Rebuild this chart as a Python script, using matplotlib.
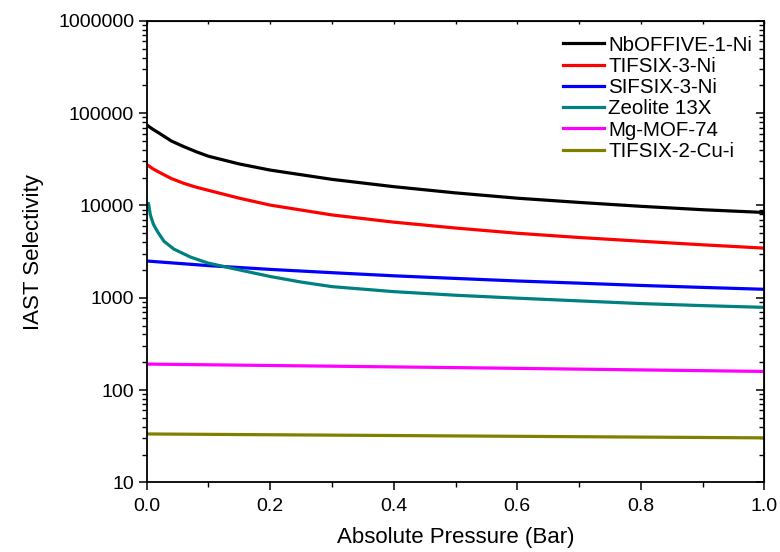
import matplotlib

matplotlib.use("Agg")
import matplotlib.pyplot as plt
from matplotlib.ticker import FuncFormatter, LogLocator, MultipleLocator, NullFormatter

plt.rcParams["font.family"] = ["Liberation Sans", "DejaVu Sans"]

# ---- data ----
x_nb = [0.001, 0.01, 0.02, 0.04, 0.06, 0.08, 0.1, 0.15, 0.2, 0.3, 0.4, 0.5, 0.6, 0.7, 0.8, 0.9, 1.0]
y_nb = [74000, 67000, 61000, 50000, 43500, 38300, 34200, 28200, 24200, 19200, 16000, 13700,
        12000, 10800, 9800, 9000, 8400]

x_ti3 = [0.001, 0.01, 0.02, 0.04, 0.06, 0.08, 0.1, 0.15, 0.2, 0.3, 0.4, 0.5, 0.6, 0.7, 0.8, 0.9, 1.0]
y_ti3 = [27600, 25000, 23000, 19600, 17400, 15800, 14600, 12000, 10100, 7900, 6600, 5700,
         5000, 4500, 4100, 3750, 3450]

x_si3 = [0.001, 0.1, 0.2, 0.3, 0.4, 0.5, 0.6, 0.7, 0.8, 0.9, 1.0]
y_si3 = [2500, 2230, 2030, 1870, 1730, 1620, 1520, 1440, 1360, 1295, 1235]

x_zeo = [0.001, 0.003, 0.006, 0.011, 0.018, 0.028, 0.044, 0.071, 0.099, 0.136,
         0.2, 0.25, 0.3, 0.4, 0.5, 0.6, 0.7, 0.8, 0.9, 1.0]
y_zeo = [9800, 10500, 7900, 6250, 5160, 4100, 3370, 2760, 2380, 2100,
         1700, 1480, 1320, 1165, 1065, 990, 925, 865, 822, 787]

x_mg = [0.001, 0.5, 1.0]
y_mg = [191, 175, 159]

x_ti2 = [0.001, 0.5, 1.0]
y_ti2 = [33.4, 31.8, 30.3]

series = [
    ("NbOFFIVE-1-Ni", x_nb, y_nb, "#000000"),
    ("TIFSIX-3-Ni", x_ti3, y_ti3, "#ff0000"),
    ("SIFSIX-3-Ni", x_si3, y_si3, "#0000ff"),
    ("Zeolite 13X", x_zeo, y_zeo, "#008080"),
    ("Mg-MOF-74", x_mg, y_mg, "#ff00ff"),
    ("TIFSIX-2-Cu-i", x_ti2, y_ti2, "#808000"),
]

fig = plt.figure(figsize=(7.8, 5.52), dpi=100)
ax = fig.add_axes([0.188, 0.1263, 0.792, 0.8357])

for label, xs, ys, color in series:
    ax.plot(xs, ys, color=color, linewidth=2.3, label=label, solid_joinstyle="round")

ax.set_yscale("log")
ax.set_xlim(0, 1.0)
ax.set_ylim(10, 1e6)

ax.xaxis.set_major_locator(MultipleLocator(0.2))
ax.xaxis.set_minor_locator(MultipleLocator(0.1))
ax.xaxis.set_major_formatter(FuncFormatter(lambda v, p: f"{v:.1f}"))
ax.yaxis.set_major_locator(LogLocator(base=10, numticks=10))
ax.yaxis.set_minor_locator(LogLocator(base=10, subs=range(2, 10), numticks=20))
ax.yaxis.set_major_formatter(FuncFormatter(lambda v, p: f"{int(round(v))}"))
ax.yaxis.set_minor_formatter(NullFormatter())

ax.tick_params(which="major", direction="out", length=6, width=1.1, labelsize=14, pad=3)
ax.tick_params(axis="x", which="major", pad=5)
ax.tick_params(which="minor", direction="out", length=3.5, width=1.0)
for s in ax.spines.values():
    s.set_linewidth(1.3)

# mirrored inner ticks on top and right
top = ax.secondary_xaxis("top")
top.xaxis.set_major_locator(MultipleLocator(0.1))
top.tick_params(direction="in", length=2.5, width=1.0, labeltop=False)
right = ax.secondary_yaxis("right")
right.yaxis.set_major_locator(LogLocator(base=10, numticks=10))
right.yaxis.set_minor_locator(LogLocator(base=10, subs=range(2, 10), numticks=20))
right.tick_params(which="major", direction="in", length=6, width=1.1, labelright=False)
right.tick_params(which="minor", direction="in", length=3.5, width=1.0, labelright=False)
right.yaxis.set_minor_formatter(NullFormatter())

ax.set_xlabel("Absolute Pressure (Bar)", fontsize=16, labelpad=9)
ax.set_ylabel("IAST Selectivity", fontsize=16, labelpad=10)

ax.legend(loc="upper right", bbox_to_anchor=(1.0, 0.995), frameon=False, fontsize=14.8,
          handlelength=2.0, handletextpad=0.2, labelspacing=0.11, borderaxespad=0.2)

plt.savefig("out.png", dpi=100)
